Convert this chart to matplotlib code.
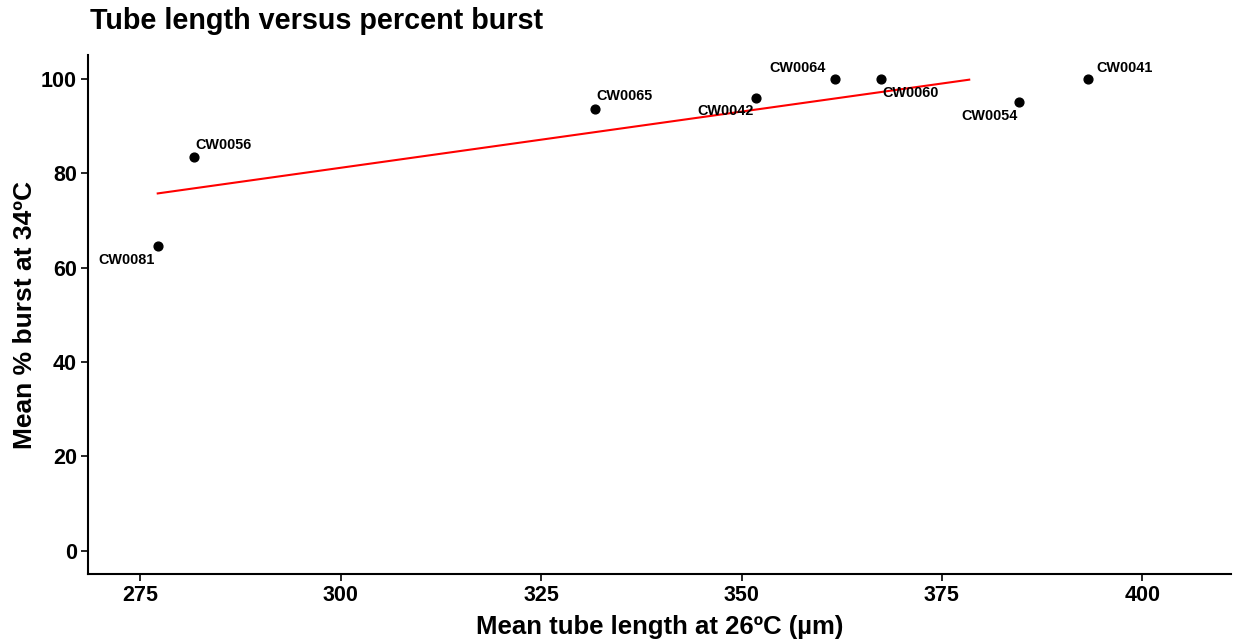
import matplotlib
matplotlib.use("Agg")
import matplotlib.pyplot as plt

plt.rcParams['font.family'] = ['Liberation Sans', 'DejaVu Sans']

# strain means
strains = ['CW0081', 'CW0056', 'CW0065', 'CW0042', 'CW0064', 'CW0060', 'CW0054', 'CW0041']
tube_len = [277.15, 281.7, 331.7, 351.8, 361.6, 367.4, 384.6, 393.2]
burst = [64.6, 83.4, 93.6, 96.0, 100.0, 100.0, 95.1, 100.0]

# label offsets in points (dx, dy) and horizontal alignment
offsets = [(-2, -10), (1, 9), (1, 9), (-2, -10), (-6, 7.5), (1, -10), (-1, -10), (6, 7.5)]
aligns = ['right', 'left', 'left', 'right', 'right', 'left', 'right', 'left']

# fitted trend line end points
fit_x = [277.15, 378.4]
fit_y = [75.7, 99.8]

fig = plt.figure(figsize=(12.36, 6.41), dpi=100)
ax = fig.add_axes([0.0712, 0.104, 0.925, 0.81])

ax.plot(fit_x, fit_y, color='red', lw=1.5, zorder=2)
ax.scatter(tube_len, burst, s=40, color='black', zorder=3)

for name, x, y, (dx, dy), ha in zip(strains, tube_len, burst, offsets, aligns):
    ax.annotate(name, (x, y), xytext=(dx, dy), textcoords='offset points',
                ha=ha, va='center', fontsize=10.4, fontweight='bold', zorder=4)

ax.set_xlim(268.45, 411.1)
ax.set_ylim(-5, 105)
ax.set_xticks([275, 300, 325, 350, 375, 400])
ax.set_yticks([0, 20, 40, 60, 80, 100])

for s in ['top', 'right']:
    ax.spines[s].set_visible(False)
for s in ['left', 'bottom']:
    ax.spines[s].set_linewidth(1.5)

ax.tick_params(axis='both', length=5, width=1.2, labelsize=15.5, pad=3)
for lab in ax.get_xticklabels() + ax.get_yticklabels():
    lab.set_fontweight('bold')

ax.set_xlabel('Mean tube length at 26ºC (µm)', fontsize=18.5, fontweight='bold', labelpad=6)
ax.set_ylabel('Mean % burst at 34ºC', fontsize=19, fontweight='bold', labelpad=3)
fig.text(0.073, 0.968, 'Tube length versus percent burst', fontsize=20.7,
         fontweight='bold', ha='left', va='center')

fig.savefig('out.png', dpi=100)
